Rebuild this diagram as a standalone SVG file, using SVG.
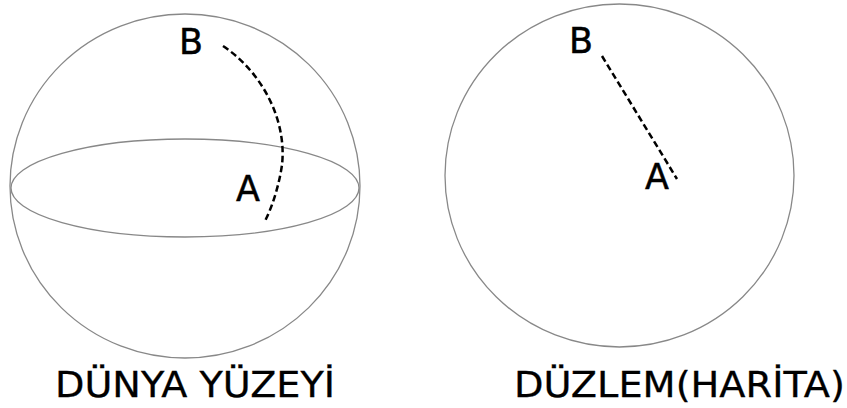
<svg xmlns="http://www.w3.org/2000/svg" width="847" height="408" viewBox="0 0 847 408">
<style>
.outline{fill:none;stroke:#888;stroke-width:1.3}
.dash{fill:none;stroke:#000;stroke-width:2.5;stroke-dasharray:6.5,3.5}
.lbl{font-family:"DejaVu Sans","Liberation Sans",sans-serif;font-size:35px;fill:#000;stroke:#000;stroke-width:0.5}
.cap{font-family:"DejaVu Sans","Liberation Sans",sans-serif;font-size:35px;fill:#000;stroke:#000;stroke-width:0.3}
</style>
<rect width="847" height="408" fill="#fff"/>
<g id="globe">
<ellipse class="outline" cx="185" cy="186" rx="175" ry="172"/>
<ellipse class="outline" cx="185" cy="188" rx="174" ry="49"/>
</g>
<g id="plane">
<ellipse class="outline" cx="619.5" cy="175.5" rx="174.5" ry="171.5"/>
</g>
<g id="connectors">
<path class="dash" d="M223,46 C262,72 287,120 282,165 C279,185 273,205 265,221"/>
<path class="dash" d="M602,56 L677,179"/>
</g>
<g id="labels">
<text class="lbl" x="179" y="54">B</text>
<text class="lbl" x="236" y="201">A</text>
<text class="lbl" x="569" y="53">B</text>
<text class="lbl" x="645" y="189">A</text>
</g>
<g id="captions">
<text class="cap" x="55" y="397" textLength="280" lengthAdjust="spacingAndGlyphs">DÜNYA YÜZEYİ</text>
<text class="cap" x="514" y="397" textLength="331" lengthAdjust="spacingAndGlyphs">DÜZLEM(HARİTA)</text>
</g>
</svg>
